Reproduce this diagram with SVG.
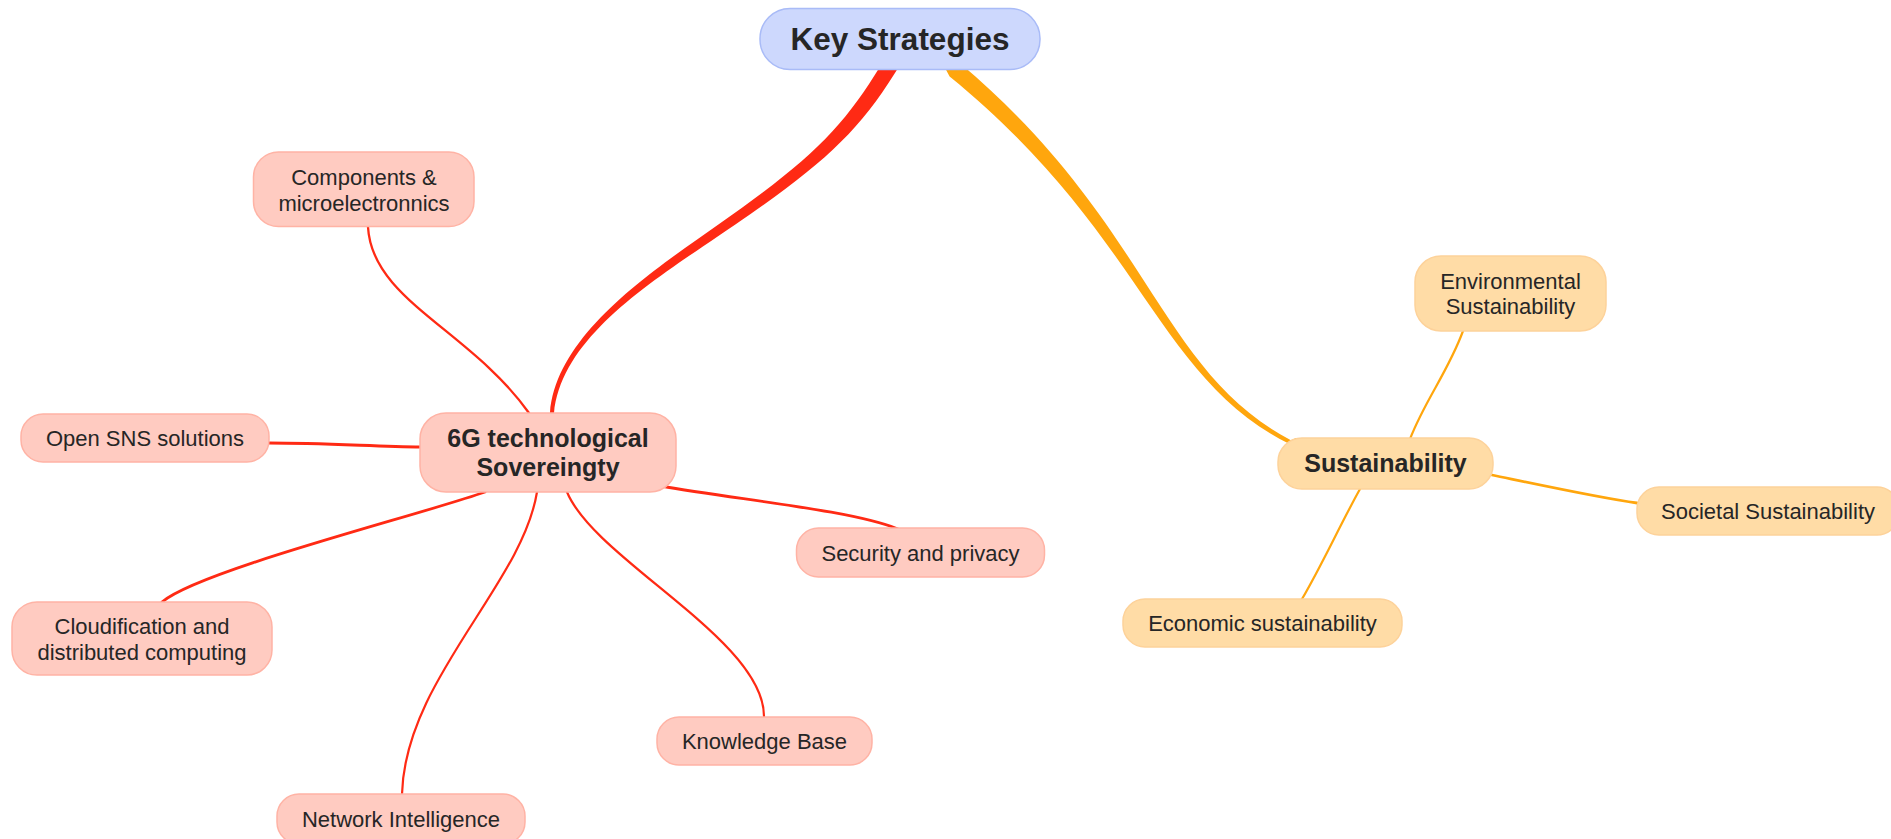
<svg xmlns="http://www.w3.org/2000/svg" width="1891" height="839" viewBox="0 0 1891 839">
<style>
  .bg { fill: #ffffff; }
  .red-node rect { fill: #ffcbc1; stroke: #ffb3a5; stroke-width: 1.5; }
  .org-node rect { fill: #ffdca6; stroke: #fdd29a; stroke-width: 1.5; }
  .root rect { fill: #cdd8fd; stroke: #a9bbf7; stroke-width: 1.5; }
  text { font-family: "Liberation Sans", Arial, sans-serif; fill: #262626; text-anchor: middle; }
  .t { font-size: 22px; }
  .b { font-size: 25px; font-weight: bold; }
  .r { font-size: 31.5px; font-weight: bold; }
  .red-line { fill: none; stroke: #ff2a14; stroke-linecap: round; }
  .org-line { fill: none; stroke: #ffa60d; stroke-linecap: round; }
  .red-fill { fill: #ff2a14; }
  .org-fill { fill: #ffa60d; }
</style>
<rect class="bg" x="0" y="0" width="1891" height="839"/>

<g id="connectors">
  <!-- Key Strategies -> 6G technological Sovereingty (tapered) -->
  <path class="red-fill" d="M554,418 L554,413.2 C560.7,345.2 632.2,294.3 702.5,246.7 C813.1,172.5 852.4,140.9 894.8,73.2 L899,66.4 L885.4,58 L881.2,64.8 C839.6,133.1 806.9,163.5 697.5,239.3 C627.8,287.7 555.3,344.8 550,412.8 L550,418 Z"/>
  <!-- Key Strategies -> Sustainability (tapered) -->
  <path class="org-fill" d="M944,66 L949.6,76.5 C1143.7,234.6 1154.9,376.1 1289.1,443.8 L1296,446 L1296,438 L1290.9,440.2 C1158.1,369.9 1151.3,225.4 960.4,63.5 L956,58 Z"/>

  <!-- 6G children -->
  <path class="red-line" stroke-width="2.3" d="M368,227 C372,300 470,330 529,413"/>
  <path class="red-line" stroke-width="3" d="M269,443 C320,443 370,446 421,447"/>
  <path class="red-line" stroke-width="2.8" d="M661,486 C740,500 850,510 898,529"/>
  <path class="red-line" stroke-width="2.8" d="M485,492 C420,515 200,570 162,602"/>
  <path class="red-line" stroke-width="2.2" d="M537,492 C522,585 405,680 402,794"/>
  <path class="red-line" stroke-width="2.2" d="M567,492 C595,560 765,640 764,717"/>

  <!-- Sustainability children -->
  <path class="org-line" stroke-width="2.2" d="M1410,439 C1425,400 1448,372 1463,331"/>
  <path class="org-line" stroke-width="2.8" d="M1492,475 C1540,485 1600,498 1637,503"/>
  <path class="org-line" stroke-width="2.2" d="M1360,489 C1340,525 1322,565 1302,599"/>
</g>

<g id="key-strategies" class="root">
  <rect x="760" y="8.5" width="280" height="61" rx="30"/>
  <text class="r" x="900" y="50">Key Strategies</text>
</g>

<g id="sovereignty" class="red-node">
  <rect x="420" y="413" width="256" height="79" rx="26"/>
  <text class="b" x="548" y="447">6G technological</text>
  <text class="b" x="548" y="476">Sovereingty</text>
</g>

<g id="components" class="red-node">
  <rect x="253.5" y="152" width="220.5" height="74.5" rx="25"/>
  <text class="t" x="364" y="185">Components &amp;</text>
  <text class="t" x="364" y="211">microelectronnics</text>
</g>

<g id="open-sns" class="red-node">
  <rect x="21" y="414" width="248" height="48" rx="22"/>
  <text class="t" x="145" y="446">Open SNS solutions</text>
</g>

<g id="security" class="red-node">
  <rect x="796.5" y="528" width="248" height="49" rx="22"/>
  <text class="t" x="920.5" y="561">Security and privacy</text>
</g>

<g id="cloudification" class="red-node">
  <rect x="12" y="602" width="260" height="73" rx="25"/>
  <text class="t" x="142" y="634">Cloudification and</text>
  <text class="t" x="142" y="660">distributed computing</text>
</g>

<g id="knowledge" class="red-node">
  <rect x="657" y="717" width="215" height="48" rx="22"/>
  <text class="t" x="764.5" y="749">Knowledge Base</text>
</g>

<g id="network" class="red-node">
  <rect x="277" y="794" width="248" height="50" rx="22"/>
  <text class="t" x="401" y="827">Network Intelligence</text>
</g>

<g id="sustainability" class="org-node">
  <rect x="1278" y="438" width="215" height="51" rx="24"/>
  <text class="b" x="1385.5" y="472">Sustainability</text>
</g>

<g id="environmental" class="org-node">
  <rect x="1415" y="256" width="191" height="75" rx="26"/>
  <text class="t" x="1510.5" y="289">Environmental</text>
  <text class="t" x="1510.5" y="314">Sustainability</text>
</g>

<g id="societal" class="org-node">
  <rect x="1637" y="487" width="262" height="48" rx="22"/>
  <text class="t" x="1768" y="519">Societal Sustainability</text>
</g>

<g id="economic" class="org-node">
  <rect x="1123" y="599" width="279" height="48" rx="22"/>
  <text class="t" x="1262.5" y="631">Economic sustainability</text>
</g>
</svg>
